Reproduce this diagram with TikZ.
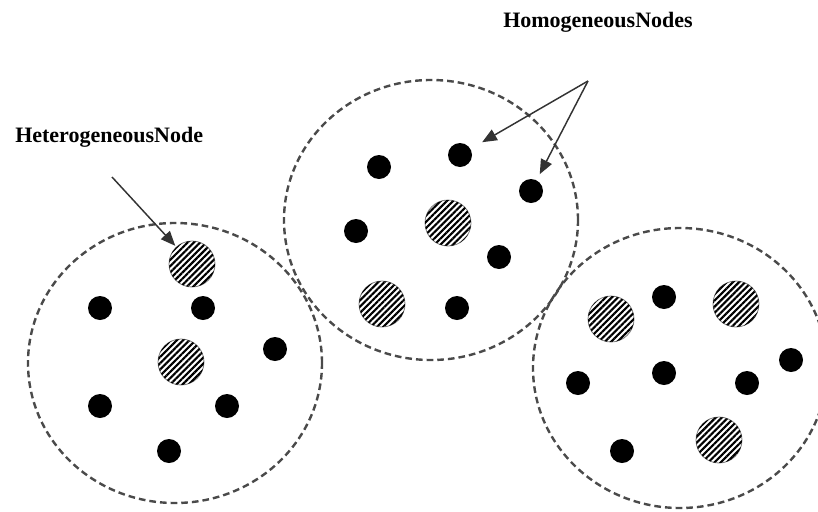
\documentclass[tikz,border=0pt]{standalone}
\usepackage{fontspec}
\setmainfont{Liberation Serif}
\usetikzlibrary{shapes.geometric,patterns.meta,arrows.meta}
\definecolor{dashgray}{HTML}{4A4A4A}
\definecolor{arrowgray}{HTML}{333333}
\tikzset{
  cluster/.style={ellipse,draw=dashgray,line width=1.8pt,dash pattern=on 5pt off 3pt,inner sep=0pt,minimum width=220.5pt,minimum height=210pt},
  homo/.style={circle,fill=black,inner sep=0pt,minimum size=18pt},
  hetero/.style={circle,draw=gray,line width=0.6pt,fill=white,inner sep=0pt,minimum size=34.5pt,
    postaction={pattern={Lines[angle=45,distance=3.3pt,line width=1.6pt]},pattern color=black}},
  pointer/.style={draw=arrowgray,line width=1.1pt,-{Triangle[length=11pt,width=9pt]}},
  lbl/.style={inner sep=0pt,font=\bfseries\fontsize{16.5}{18}\selectfont}
}
\begin{document}
\begin{tikzpicture}[x=0.75pt,y=-0.75pt]
\useasboundingbox (0,0) rectangle (818,511);
% clusters
\node[cluster] (c1) at (175,363) {};
\node[cluster] (c2) at (431,220) {};
\node[cluster] (c3) at (680,368) {};
% left cluster
\node[hetero] (l1) at (192,264) {};
\node[hetero] (l2) at (181,362) {};
\node[homo] (l3) at (100,308) {};
\node[homo] (l4) at (203,308) {};
\node[homo] (l5) at (275,349) {};
\node[homo] (l6) at (100,406) {};
\node[homo] (l7) at (227,406) {};
\node[homo] (l8) at (169,451) {};
% middle cluster
\node[homo] (m1) at (379,167) {};
\node[homo] (m2) at (460,155) {};
\node[homo] (m3) at (531,191) {};
\node[homo] (m4) at (356,231) {};
\node[hetero] (m5) at (448,223) {};
\node[homo] (m6) at (499,257) {};
\node[hetero] (m7) at (382,304) {};
\node[homo] (m8) at (457,308) {};
% right cluster
\node[hetero] (r1) at (611,319) {};
\node[homo] (r2) at (664,297) {};
\node[hetero] (r3) at (736,304) {};
\node[homo] (r4) at (791,360) {};
\node[homo] (r5) at (578,383) {};
\node[homo] (r6) at (664,373) {};
\node[homo] (r7) at (747,383) {};
\node[homo] (r8) at (622,451) {};
\node[hetero] (r9) at (719,440) {};
% labels
\node[lbl,anchor=base west] (het) at (15,142) {HeterogeneousNode};
\node[lbl,anchor=base west] (hom) at (503,27) {HomogeneousNodes};
% arrows
\coordinate (hs) at (112,177);
\coordinate (ms) at (588,81);
\draw[pointer,shorten >=1pt] (hs) -- (l1);
\draw[pointer,shorten >=10pt] (ms) -- (m2);
\draw[pointer,shorten >=5pt] (ms) -- (m3);
\end{tikzpicture}
\end{document}
